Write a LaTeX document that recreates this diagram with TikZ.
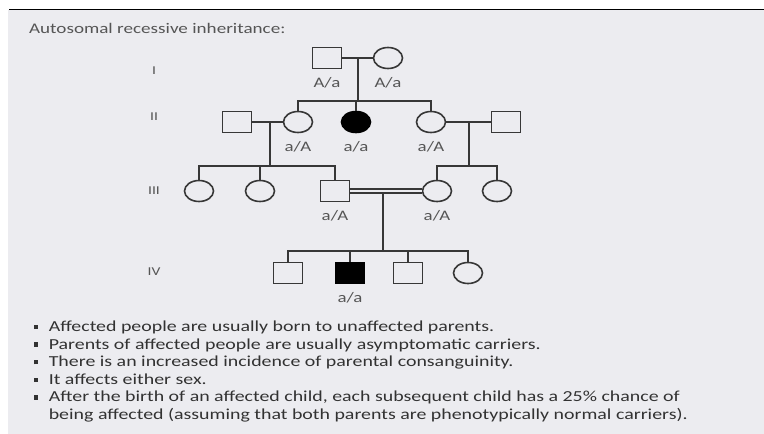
\documentclass[tikz,border=0pt]{standalone}
\usepackage{fontspec}
\setmainfont{Carlito}[FakeStretch=1.3]
\usetikzlibrary{shapes.geometric}
\definecolor{slide}{RGB}{236,236,240}
\definecolor{ink}{RGB}{55,55,55}
\definecolor{gtext}{RGB}{85,85,85}
\definecolor{btext}{RGB}{50,50,50}
\newcommand{\factbullet}{\makebox[15pt][l]{\rule[.3ex]{4.5pt}{4.5pt}}}

\begin{document}
\begin{tikzpicture}[x=1pt,y=-1pt,
    line width=1.6pt,
    every node/.style={font=\fontsize{14.5}{17}\selectfont, text=gtext},
    male/.style={draw=ink, rectangle, minimum width=29pt, minimum height=21pt, inner sep=0pt},
    female/.style={draw=ink, ellipse, minimum width=29pt, minimum height=21pt, inner sep=0pt},
    affected/.style={fill=black, draw=black},
    geno/.style={label={[label distance=4pt]below:#1}},
    gen/.style={font=\fontsize{12}{14}\selectfont}
  ]
  \useasboundingbox (0,0) rectangle (764,434);
  \fill[slide] (8,10) rectangle (764,434);
  \draw[black, line width=1.5pt] (9,9.5) -- (764,9.5);
  \node[anchor=west, font=\fontsize{14.7}{18}\selectfont] (title) at (25,28) {Autosomal recessive inheritance:};

  \node[gen] (g1) at (154,71) {I};
  \node[gen] (g2) at (154,117) {II};
  \node[gen] (g3) at (154,191) {III};
  \node[gen] (g4) at (154,272) {IV};

  \node[male, geno=A/a] (m1) at (327,58) {};
  \node[female, geno=A/a] (f1) at (388,58) {};

  \node[male] (m2) at (237,122) {};
  \node[female, geno=a/A] (f2) at (298,122) {};
  \node[female, affected, geno=a/a] (a2) at (356,122) {};
  \node[female, geno=a/A] (f3) at (431,122) {};
  \node[male] (m3) at (506,122) {};

  \node[female] (f4) at (199,191) {};
  \node[female] (f5) at (260,191) {};
  \node[male, geno=a/A] (m4) at (335,191) {};
  \node[female, geno=a/A] (f6) at (437,191) {};
  \node[female] (f7) at (497,191) {};

  \node[male] (m5) at (288,273) {};
  \node[male, affected, geno=a/a] (a3) at (350,273) {};
  \node[male] (m6) at (408,273) {};
  \node[female] (f8) at (468,273) {};

  \coordinate (c1) at (358,58);
  \coordinate (s1) at (358,101);
  \coordinate (c2) at (270,122);
  \coordinate (s2) at (270,166);
  \coordinate (c3) at (469,122);
  \coordinate (s3) at (469,166);
  \coordinate (c4) at (383,193);
  \coordinate (s4) at (383,251);

  \draw[ink] (m1) -- (f1);
  \draw[ink] (c1) -- (s1);
  \draw[ink] (f2) |- (s1) -| (f3);
  \draw[ink] (a2) -- (a2 |- s1);

  \draw[ink] (m2) -- (f2);
  \draw[ink] (c2) -- (s2);
  \draw[ink] (f4) |- (s2) -| (m4);
  \draw[ink] (f5) -- (f5 |- s2);

  \draw[ink] (f3) -- (m3);
  \draw[ink] (c3) -- (s3);
  \draw[ink] (f6) |- (s3) -| (f7);

  \draw[ink, double=slide, double distance=2.4pt] (m4) -- (f6);
  \draw[ink] (c4) -- (s4);
  \draw[ink] (m5) |- (s4) -| (f8);
  \draw[ink] (a3) -- (a3 |- s4);
  \draw[ink] (m6) -- (m6 |- s4);

  \node[anchor=north west, align=left, inner sep=0pt, text=btext, font=\fontsize{15.3}{17.6}\selectfont] (facts) at (33,320) {%
    \factbullet Affected people are usually born to unaffected parents.\\
    \factbullet Parents of affected people are usually asymptomatic carriers.\\
    \factbullet There is an increased incidence of parental consanguinity.\\
    \factbullet It affects either sex.\\
    \factbullet After the birth of an affected child, each subsequent child has a 25\% chance of\\
    \hphantom{\factbullet}being affected (assuming that both parents are phenotypically normal carriers).};
\end{tikzpicture}
\end{document}
